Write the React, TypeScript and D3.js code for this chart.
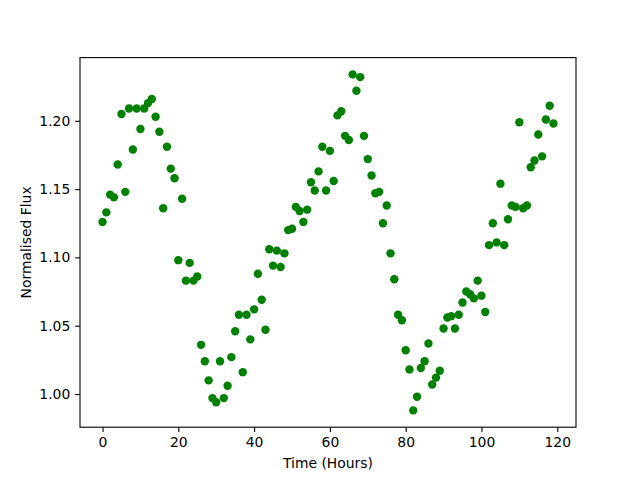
import React, { useEffect, useRef } from "react";
import * as d3 from "d3";

// hours since start of observation
const hours = d3.range(0, 120);

// normalised flux
const flux = [
  1.126, 1.133, 1.146, 1.144, 1.168, 1.205, 1.148, 1.209, 1.179, 1.209,
  1.194, 1.209, 1.213, 1.216, 1.203, 1.192, 1.136, 1.181, 1.165, 1.158,
  1.098, 1.143, 1.083, 1.096, 1.083, 1.086, 1.036, 1.024, 1.010, 0.997,
  0.994, 1.024, 0.997, 1.006, 1.027, 1.046, 1.058, 1.016, 1.058, 1.040,
  1.062, 1.088, 1.069, 1.047, 1.106, 1.094, 1.105, 1.093, 1.103, 1.120,
  1.121, 1.137, 1.134, 1.126, 1.135, 1.155, 1.149, 1.163, 1.181, 1.149,
  1.178, 1.156, 1.204, 1.207, 1.189, 1.186, 1.234, 1.222, 1.232, 1.189,
  1.172, 1.160, 1.147, 1.148, 1.125, 1.138, 1.103, 1.084, 1.058, 1.054,
  1.032, 1.018, 0.988, 0.998, 1.019, 1.024, 1.037, 1.007, 1.012, 1.017,
  1.048, 1.056, 1.057, 1.048, 1.058, 1.067, 1.075, 1.073, 1.070, 1.083,
  1.072, 1.060, 1.109, 1.125, 1.111, 1.154, 1.109, 1.128, 1.138, 1.137,
  1.199, 1.136, 1.138, 1.166, 1.171, 1.190, 1.174, 1.201, 1.211, 1.198,
];

const xTicks = [0, 20, 40, 60, 80, 100, 120];
const yTicks = [1.0, 1.05, 1.1, 1.15, 1.2];

const width = 640;
const height = 480;
const margin = { top: 57.6, right: 64, bottom: 52.8, left: 80 };

// matplotlib style 5% padding around data extent
function padded(ext: [number, number]): [number, number] {
  const span = ext[1] - ext[0];
  return [ext[0] - span * 0.05, ext[1] + span * 0.05];
}

export default function App() {
  const ref = useRef<SVGSVGElement>(null);

  useEffect(() => {
    const svg = d3.select(ref.current);
    svg.selectAll("*").remove();

    const innerW = width - margin.left - margin.right;
    const innerH = height - margin.top - margin.bottom;
    const font = "DejaVu Sans, sans-serif";
    const tick = 4.86;

    const x = d3.scaleLinear()
      .domain(padded(d3.extent(hours) as [number, number]))
      .range([0, innerW]);
    const y = d3.scaleLinear()
      .domain(padded(d3.extent(flux) as [number, number]))
      .range([innerH, 0]);

    const g = svg.append("g")
      .attr("transform", `translate(${margin.left},${margin.top})`);

    g.selectAll("circle")
      .data(hours)
      .enter()
      .append("circle")
      .attr("cx", (d) => x(d))
      .attr("cy", (d, i) => y(flux[i]))
      .attr("r", 4.2)
      .attr("fill", "#008000");

    const xAxis = g.append("g")
      .attr("transform", `translate(0,${innerH})`)
      .call(d3.axisBottom(x).tickValues(xTicks).tickFormat(d3.format("d"))
        .tickSize(tick).tickSizeOuter(0).tickPadding(4.86));
    const yAxis = g.append("g")
      .call(d3.axisLeft(y).tickValues(yTicks).tickFormat(d3.format(".2f"))
        .tickSize(tick).tickSizeOuter(0).tickPadding(4.86));

    [xAxis, yAxis].forEach((a) => {
      a.select(".domain").remove();
      a.selectAll("line").attr("stroke", "#000").attr("stroke-width", 1.1);
      a.selectAll("text")
        .style("font-family", font)
        .style("font-size", "13.9px")
        .attr("fill", "#000");
    });

    // frame
    g.append("rect")
      .attr("width", innerW)
      .attr("height", innerH)
      .attr("fill", "none")
      .attr("stroke", "#000")
      .attr("stroke-width", 1.1);

    svg.append("text")
      .attr("x", margin.left + innerW / 2)
      .attr("y", 468)
      .attr("text-anchor", "middle")
      .style("font-family", font)
      .style("font-size", "13.9px")
      .text("Time (Hours)");

    svg.append("text")
      .attr("transform", `translate(31,${margin.top + innerH / 2}) rotate(-90)`)
      .attr("text-anchor", "middle")
      .style("font-family", font)
      .style("font-size", "13.9px")
      .text("Normalised Flux");
  }, []);

  return (
    <svg
      ref={ref}
      width={width}
      height={height}
      style={{ position: "absolute", left: 0, top: 0, background: "#fff" }}
    />
  );
}
